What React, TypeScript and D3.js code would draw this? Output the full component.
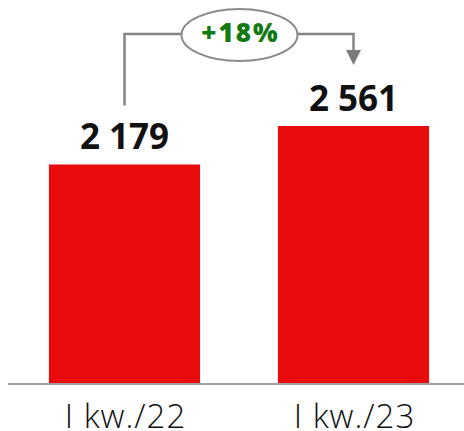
import React from "react";
import * as d3 from "d3";

const categories = ["I kw./22", "I kw./23"];
const values = [2179, 2561];

const W = 464;
const H = 431;
const baseY = 384;
const FONT = "'Open Sans', 'DejaVu Sans', sans-serif";

const fmt = (v: number) => d3.format(",")(v).replace(/,/g, " ");

export default function App() {
  const x = d3
    .scaleBand<string>()
    .domain(categories)
    .range([10, 468])
    .paddingInner(0.34)
    .paddingOuter(0.17);
  const y = d3.scaleLinear().domain([0, 3800]).range([baseY, baseY - 3800 * 0.10074]);

  const growth = Math.round((values[1] / values[0] - 1) * 100);
  const cx0 = (x(categories[0]) ?? 0) + x.bandwidth() / 2;
  const cx1 = (x(categories[1]) ?? 0) + x.bandwidth() / 2;
  const lineY = 34;
  const ell = { cx: 239.5, cy: 35, rx: 58, ry: 26 };
  const gray = "#848484";

  return (
    <svg
      width={W}
      height={H}
      style={{ position: "absolute", left: 0, top: 0, background: "#fff" }}
    >
      {categories.map((c, i) => (
        <g key={c}>
          <rect
            x={x(c)}
            y={y(values[i])}
            width={x.bandwidth()}
            height={baseY - y(values[i])}
            fill="#e90c0c"
          />
          <text
            x={(x(c) ?? 0) + x.bandwidth() / 2}
            y={y(values[i]) - 15}
            textAnchor="middle"
            fontFamily={FONT}
            fontWeight={700}
            fontSize={35}
            fill="#111"
          >
            {fmt(values[i])}
          </text>
          <text
            x={(x(c) ?? 0) + x.bandwidth() / 2 + 1}
            y={428}
            textAnchor="middle"
            fontFamily={FONT}
            fontWeight={300}
            fontSize={33}
            letterSpacing={1}
            fill="#111"
          >
            {c}
          </text>
        </g>
      ))}
      <line x1={8} x2={W} y1={baseY} y2={baseY} stroke="#a0a0a0" strokeWidth={2} />

      {/* growth connector */}
      <path
        d={`M${cx0},${y(values[0]) - 59} V${lineY} H${ell.cx - ell.rx}`}
        fill="none"
        stroke={gray}
        strokeWidth={2.5}
      />
      <path
        d={`M${ell.cx + ell.rx},${lineY} H${cx1} V${51}`}
        fill="none"
        stroke={gray}
        strokeWidth={2.5}
      />
      <path d={`M${cx1 - 7.5},50 L${cx1 + 7.5},50 L${cx1},65 Z`} fill="#7a7a7a" />
      <ellipse
        cx={ell.cx}
        cy={ell.cy}
        rx={ell.rx}
        ry={ell.ry}
        fill="#fff"
        stroke="#8a8a8a"
        strokeWidth={2}
      />
      <text
        x={ell.cx + 1}
        y={41.5}
        textAnchor="middle"
        fontFamily={FONT}
        fontWeight={800}
        fontSize={26}
        letterSpacing={2}
        fill="#137a13"
      >
        {`+${growth}%`}
      </text>
    </svg>
  );
}
